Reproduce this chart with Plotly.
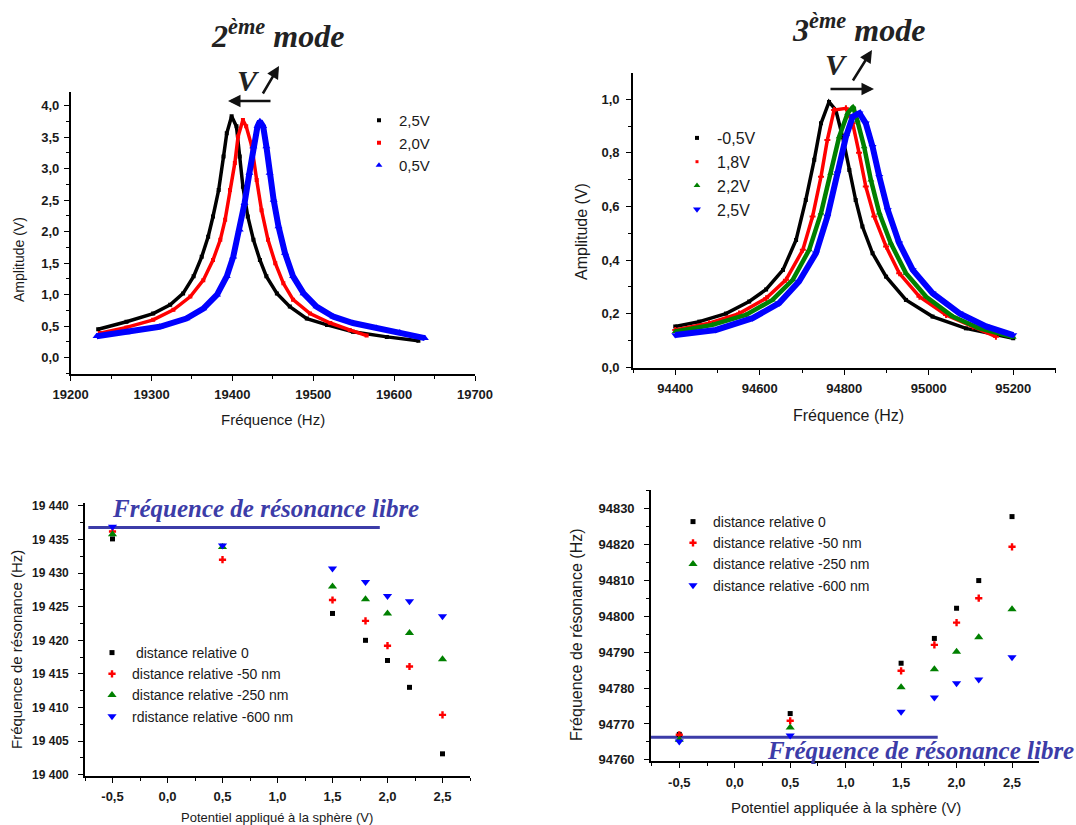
import plotly.graph_objects as go

# ---------------- data ----------------
# Top-left: 2nd mode resonance curves
tl_freq_25 = [19234, 19269, 19302, 19323, 19339, 19352, 19362, 19370, 19376, 19383, 19389, 19393, 19399,
              19405, 19409, 19413, 19419, 19426, 19434, 19442, 19455, 19471, 19492, 19517, 19549, 19591, 19630]
tl_amp_25 = [0.45, 0.57, 0.70, 0.84, 1.02, 1.29, 1.60, 1.92, 2.24, 2.66, 3.19, 3.56, 3.83,
             3.67, 3.19, 2.71, 2.24, 1.87, 1.55, 1.29, 1.02, 0.81, 0.62, 0.52, 0.41, 0.33, 0.27]
tl_freq_20 = [19236, 19269, 19302, 19327, 19348, 19364, 19376, 19385, 19391, 19397, 19403, 19407, 19413,
              19417, 19424, 19430, 19436, 19444, 19453, 19463, 19475, 19496, 19521, 19545, 19566]
tl_amp_20 = [0.39, 0.48, 0.60, 0.76, 0.97, 1.23, 1.55, 1.87, 2.19, 2.66, 3.09, 3.51, 3.77,
             3.67, 3.35, 2.82, 2.34, 1.87, 1.50, 1.18, 0.92, 0.70, 0.55, 0.44, 0.35]
tl_freq_05 = [19232, 19269, 19310, 19343, 19364, 19381, 19393, 19401, 19409, 19415, 19421, 19426, 19431, 19434,
              19438, 19442, 19446, 19451, 19457, 19465, 19475, 19488, 19504, 19525, 19549, 19578, 19607, 19638]
tl_amp_05 = [0.34, 0.40, 0.49, 0.62, 0.78, 1.00, 1.29, 1.60, 2.03, 2.45, 2.93, 3.35, 3.67, 3.75,
             3.67, 3.35, 2.93, 2.50, 2.08, 1.66, 1.29, 1.02, 0.81, 0.65, 0.55, 0.47, 0.40, 0.31]
tl_names = ["2,5V", "2,0V", "0,5V"]

# Top-right: 3rd mode resonance curves
tr_freq_m05 = [94400, 94457, 94520, 94575, 94615, 94655, 94686, 94709, 94729, 94745, 94764, 94780, 94796,
               94812, 94827, 94843, 94867, 94899, 94946, 95009, 95088, 95200]
tr_amp_m05 = [0.152, 0.170, 0.200, 0.245, 0.290, 0.363, 0.475, 0.624, 0.774, 0.910, 0.990, 0.960, 0.860,
              0.736, 0.624, 0.525, 0.425, 0.338, 0.251, 0.189, 0.145, 0.108]
tr_freq_18 = [94400, 94480, 94551, 94615, 94662, 94702, 94725, 94745, 94760, 94776, 94804, 94820, 94835,
              94851, 94871, 94899, 94930, 94978, 95041, 95104, 95159]
tr_amp_18 = [0.139, 0.164, 0.200, 0.257, 0.326, 0.438, 0.562, 0.711, 0.848, 0.960, 0.966, 0.910, 0.800,
             0.674, 0.562, 0.450, 0.351, 0.263, 0.195, 0.152, 0.114]
tr_freq_22 = [94400, 94488, 94567, 94630, 94678, 94717, 94745, 94768, 94788, 94808, 94821, 94831, 94847,
              94863, 94883, 94910, 94946, 94994, 95057, 95120, 95200]
tr_amp_22 = [0.133, 0.158, 0.195, 0.251, 0.326, 0.438, 0.575, 0.724, 0.860, 0.948, 0.972, 0.920, 0.823,
             0.699, 0.575, 0.463, 0.351, 0.263, 0.189, 0.145, 0.112]
tr_freq_25 = [94400, 94496, 94583, 94646, 94693, 94733, 94760, 94784, 94804, 94820, 94836, 94851, 94867,
              94883, 94903, 94930, 94962, 95009, 95073, 95136, 95200]
tr_amp_25 = [0.120, 0.139, 0.183, 0.239, 0.320, 0.425, 0.562, 0.724, 0.860, 0.935, 0.948, 0.910, 0.823,
             0.711, 0.587, 0.463, 0.363, 0.276, 0.201, 0.152, 0.120]
tr_names = ["-0,5V", "1,8V", "2,2V", "2,5V"]

# Bottom: resonance frequency vs applied potential
volts = [-0.5, 0.5, 1.5, 1.8, 2.0, 2.2, 2.5]
bl_d0 = [19435.1, 19434.0, 19424.0, 19420.0, 19417.0, 19413.0, 19403.1]
bl_d50 = [19436.2, 19432.0, 19426.0, 19422.9, 19419.2, 19416.1, 19408.9]
bl_d250 = [19435.8, 19433.9, 19428.0, 19426.1, 19424.0, 19421.1, 19417.2]
bl_d600 = [19436.9, 19434.1, 19430.7, 19428.7, 19426.6, 19425.8, 19423.6]
bl_free = 19436.8
bl_free_span = [-0.72, 1.93]
bl_names = [" distance relative 0", "distance relative -50 nm", "distance relative -250 nm",
            "rdistance relative -600 nm"]

br_d0 = [94767.1, 94772.9, 94786.9, 94793.8, 94802.2, 94809.9, 94827.7]
br_d50 = [94767.0, 94770.9, 94784.8, 94792.0, 94798.2, 94805.0, 94819.3]
br_d250 = [94765.6, 94769.0, 94780.2, 94785.2, 94790.1, 94794.1, 94801.9]
br_d600 = [94765.1, 94766.8, 94773.4, 94777.4, 94781.3, 94782.4, 94788.6]
br_free = 94766.3
br_free_span = [-0.78, 1.83]
br_names = ["distance relative 0", "distance relative -50 nm", "distance relative -250 nm",
            "distance relative -600 nm"]

# ticks
tl_xticks = [19200, 19300, 19400, 19500, 19600, 19700]
tl_xtext = ["19200", "19300", "19400", "19500", "19600", "19700"]
tl_yticks = [0.0, 0.5, 1.0, 1.5, 2.0, 2.5, 3.0, 3.5, 4.0]
tl_ytext = ["0,0", "0,5", "1,0", "1,5", "2,0", "2,5", "3,0", "3,5", "4,0"]
tr_xticks = [94400, 94600, 94800, 95000, 95200]
tr_xtext = ["94400", "94600", "94800", "95000", "95200"]
tr_yticks = [0.0, 0.2, 0.4, 0.6, 0.8, 1.0]
tr_ytext = ["0,0", "0,2", "0,4", "0,6", "0,8", "1,0"]
v_ticks = [-0.5, 0.0, 0.5, 1.0, 1.5, 2.0, 2.5]
v_text = ["-0,5", "0,0", "0,5", "1,0", "1,5", "2,0", "2,5"]
bl_yticks = [19400, 19405, 19410, 19415, 19420, 19425, 19430, 19435, 19440]
bl_ytext = ["19 400", "19 405", "19 410", "19 415", "19 420", "19 425", "19 430", "19 435", "19 440"]
br_yticks = [94760, 94770, 94780, 94790, 94800, 94810, 94820, 94830]
br_ytext = ["94760", "94770", "94780", "94790", "94800", "94810", "94820", "94830"]

# ---------------- figure ----------------
W, H = 1076, 825
BLACK, RED, BLUE, GREEN = "#000000", "#ff0000", "#0000ff", "#008000"
LINEBLUE = "#3c3ca8"
SANS = "Liberation Sans, Arial, sans-serif"
SERIF = "Liberation Serif, Times New Roman, serif"

fig = go.Figure()


def px_x(p):
    return p / W


def px_y(p):
    return 1 - p / H


def curve(x, y, color, symbol, msize, lw, xa, ya):
    fig.add_trace(go.Scatter(x=x, y=y, mode="lines+markers", xaxis=xa, yaxis=ya, showlegend=False,
                             line=dict(color=color, width=lw),
                             marker=dict(color=color, symbol=symbol, size=msize)))


def legend_item(name, color, symbol, msize, legend):
    fig.add_trace(go.Scatter(x=[None], y=[None], mode="markers", name=name, legend=legend,
                             marker=dict(color=color, symbol=symbol, size=msize)))


# top-left curves
curve(tl_freq_25, tl_amp_25, BLACK, "square", 4, 3.5, "x", "y")
curve(tl_freq_20, tl_amp_20, RED, "square", 4, 3.5, "x", "y")
curve(tl_freq_05, tl_amp_05, BLUE, "triangle-up", 7, 6, "x", "y")
legend_item(tl_names[0], BLACK, "square", 4, "legend")
legend_item(tl_names[1], RED, "square", 4, "legend")
legend_item(tl_names[2], BLUE, "triangle-up", 6, "legend")

# top-right curves
curve(tr_freq_m05, tr_amp_m05, BLACK, "square", 4, 3.5, "x2", "y2")
curve(tr_freq_18, tr_amp_18, RED, "cross", 5, 3.5, "x2", "y2")
curve(tr_freq_22, tr_amp_22, GREEN, "triangle-up", 6, 4.5, "x2", "y2")
curve(tr_freq_25, tr_amp_25, BLUE, "triangle-down", 7, 6, "x2", "y2")
legend_item(tr_names[0], BLACK, "square", 4, "legend2")
legend_item(tr_names[1], RED, "square", 3, "legend2")
legend_item(tr_names[2], GREEN, "triangle-up", 6, "legend2")
legend_item(tr_names[3], BLUE, "triangle-down", 7, "legend2")

# bottom-left scatter
fig.add_trace(go.Scatter(x=bl_free_span, y=[bl_free, bl_free], mode="lines", xaxis="x3", yaxis="y3",
                         showlegend=False, line=dict(color=LINEBLUE, width=3)))
for vals, nm, col, sym, sz in [(bl_d0, bl_names[0], BLACK, "square", 5),
                               (bl_d50, bl_names[1], RED, "cross", 6),
                               (bl_d250, bl_names[2], GREEN, "triangle-up", 8),
                               (bl_d600, bl_names[3], BLUE, "triangle-down", 8)]:
    fig.add_trace(go.Scatter(x=volts, y=vals, mode="markers", name=nm, xaxis="x3", yaxis="y3",
                             legend="legend3", marker=dict(color=col, symbol=sym, size=sz)))

# bottom-right scatter
fig.add_trace(go.Scatter(x=br_free_span, y=[br_free, br_free], mode="lines", xaxis="x4", yaxis="y4",
                         showlegend=False, line=dict(color=LINEBLUE, width=3)))
for vals, nm, col, sym, sz in [(br_d0, br_names[0], BLACK, "square", 5),
                               (br_d50, br_names[1], RED, "cross", 6),
                               (br_d250, br_names[2], GREEN, "triangle-up", 8),
                               (br_d600, br_names[3], BLUE, "triangle-down", 8)]:
    fig.add_trace(go.Scatter(x=volts, y=vals, mode="markers", name=nm, xaxis="x4", yaxis="y4",
                             legend="legend4", marker=dict(color=col, symbol=sym, size=sz)))


def axis(domain, rng, tickvals, ticktext, minor_dtick, minor_tick0, anchor, standoff=3, fsize=13):
    return dict(domain=domain, range=rng, anchor=anchor, tickmode="array", tickvals=tickvals,
                ticktext=ticktext, showline=True, linecolor="black", linewidth=1.6,
                ticks="outside", ticklen=5, tickwidth=1.4, tickcolor="black", automargin=False,
                showgrid=False, zeroline=False, ticklabelstandoff=standoff,
                tickfont=dict(family=SANS, size=fsize, color="#1a1a1a", weight="bold"),
                minor=dict(ticks="outside", ticklen=3, tickwidth=1.2, tickcolor="black",
                           dtick=minor_dtick, tick0=minor_tick0, showgrid=False))


layout = dict(
    template="none",
    width=W, height=H, margin=dict(l=0, r=0, t=0, b=0, pad=0), autosize=False,
    paper_bgcolor="white", plot_bgcolor="white",
    xaxis=axis([px_x(70.7), px_x(475)], [19200, 19700], tl_xticks, tl_xtext, 50, 19200, "y", 3),
    yaxis=axis([px_y(374), px_y(91.7)], [-0.259, 4.22], tl_yticks, tl_ytext, 0.25, 0, "x", 2),
    xaxis2=axis([px_x(633), px_x(1055.5)], [94300, 95300], tr_xticks, tr_xtext, 100, 94300, "y2", 3),
    yaxis2=axis([px_y(368), px_y(72.7)], [-0.003, 1.099], tr_yticks, tr_ytext, 0.1, 0, "x2", 4),
    xaxis3=axis([px_x(85), px_x(470)], [-0.75, 2.75], v_ticks, v_text, 0.25, 0, "y3", 3),
    yaxis3=axis([px_y(776), px_y(503.3)], [19399.8, 19440.4], bl_yticks, bl_ytext, 2.5, 19400, "x3", 7, 12),
    xaxis4=axis([px_x(651), px_x(1039.3)], [-0.755, 2.746], v_ticks, v_text, 0.25, 0, "y4", 4),
    yaxis4=axis([px_y(761), px_y(490)], [94759.7, 94835.1], br_yticks, br_ytext, 5, 94760, "x4", 7),
    legend=dict(x=px_x(359), y=px_y(104), xanchor="left", yanchor="top", bgcolor="rgba(0,0,0,0)",
                font=dict(family=SANS, size=15, color="#1a1a1a")),
    legend2=dict(x=px_x(677), y=px_y(121), xanchor="left", yanchor="top", bgcolor="rgba(0,0,0,0)",
                 font=dict(family=SANS, size=16, color="#1a1a1a")),
    legend3=dict(x=px_x(92), y=px_y(637), xanchor="left", yanchor="top", bgcolor="rgba(0,0,0,0)",
                 font=dict(family=SANS, size=14, color="#1a1a1a")),
    legend4=dict(x=px_x(673), y=px_y(506), xanchor="left", yanchor="top", bgcolor="rgba(0,0,0,0)",
                 font=dict(family=SANS, size=14, color="#1a1a1a")),
)
fig.update_layout(**layout)


def text(t, x, y, size, family=SANS, color="#1a1a1a", angle=0):
    fig.add_annotation(text=t, x=px_x(x), y=px_y(y), xref="paper", yref="paper", showarrow=False,
                       xanchor="center", yanchor="middle", textangle=angle,
                       font=dict(family=family, size=size, color=color))


def arrow(hx, hy, tx, ty):
    fig.add_annotation(text="", x=px_x(hx), y=px_y(hy), xref="paper", yref="paper", showarrow=True,
                       ax=tx - hx, ay=ty - hy, arrowhead=2, arrowsize=1, arrowwidth=2.5,
                       arrowcolor="#111111", standoff=0, startstandoff=0)


# titles
text("<b><i>2<sup>ème</sup> mode</i></b>", 277, 34, 32, SERIF, "#222222")
text("<b><i>3<sup>ème</sup> mode</i></b>", 858, 28, 32, SERIF, "#222222")
text("<b><i>V</i></b>", 248, 81, 30, SERIF, "#222222")
text("<b><i>V</i></b>", 836, 65, 30, SERIF, "#222222")
arrow(279, 66, 262, 95)
arrow(228, 101, 272, 101)
arrow(872, 50, 852, 82)
arrow(874, 89, 829, 89)

# axis titles
text("Amplitude (V)", 19, 260, 14, angle=-90)
text("Fréquence (Hz)", 273, 420, 15)
text("Amplitude (V)", 581, 232, 16, angle=-90)
text("Fréquence (Hz)", 848, 415, 16)
text("Fréquence de résonance (Hz)", 16, 650, 15, angle=-90)
text("Potentiel appliqué à la sphère (V)", 277, 817, 13)
text("Fréquence de résonance (Hz)", 576, 635, 16, angle=-90)
text("Potentiel appliquée à la sphère (V)", 846, 807, 15)

# free resonance labels
text("<b><i>Fréquence de résonance libre</i></b>", 265, 508, 25, SERIF, LINEBLUE)
text("<b><i>Fréquence de résonance libre</i></b>", 920, 750, 25, SERIF, LINEBLUE)

fig.write_html("out.html", config={"displayModeBar": False},
               post_script="document.body.style.margin='0';document.body.style.overflow='hidden';")
